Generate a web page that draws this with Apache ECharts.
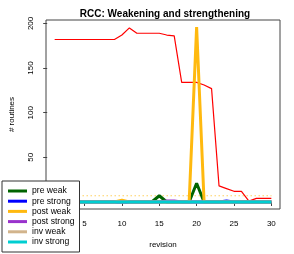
<!DOCTYPE html>
<html>
<head>
<meta charset="utf-8">
<script src="https://cdn.jsdelivr.net/npm/echarts@6/dist/echarts.min.js"></script>
<style>html,body{margin:0;padding:0;background:#fff}#c{width:294px;height:254px}</style>
</head>
<body>
<div id="c"></div>
<script>
var revisions = [1,2,3,4,5,6,7,8,9,10,11,12,13,14,15,16,17,18,19,20,21,22,23,24,25,26,27,28,29,30];
var totalRoutines = [182,182,182,182,182,182,182,182,182,187,195,189,189,189,189,187,186,134,134,134,131,127,18,15,12,12,1,4,4,4];
var preWeak    = [0,0,0,0,0,0,0,0,0,0,0,0,0,0,7,0,0,0,0,21,0,0,0,0,0,0,0,0,0,0];
var preStrong  = [0,0,0,0,0,0,0,0,0,0,0,0,0,0,0,0,0,0,0,0,0,0,0,1,0,0,0,0,0,0];
var postWeak   = [0,0,0,0,0,0,0,0,0,2,0,0,0,0,0,0,0,0,0,196,0,0,0,0,0,0,0,0,0,0];
var postStrong = [0,0,0,0,0,0,0,0,0,0,0,0,0,0,0,1,1,0,0,0,0,0,0,0,0,0,0,0,0,0];
var invWeak    = [0,0,0,0,0,0,0,0,0,0,0,0,0,0,0,0,0,0,0,0,0,0,0,0,0,0,0,0,0,0];
var invStrong  = [0,0,0,0,0,0,0,0,0,0,0,0,0,0,0,0,0,0,0,0,0,0,0,0,0,0,0,0,0,0];
var thresholdValue = 7;
var xTicks = [0,5,10,15,20,25,30];
var yTicks = [0,50,100,150,200];
var seriesNames = ['pre weak','pre strong','post weak','post strong','inv weak','inv strong'];
var seriesColors = ['#006400','#0000FF','#FFB90F','#9932CC','#D2B48C','#00CED1'];

function pairs(vals){ return revisions.map(function(r,i){ return [r, vals[i]]; }); }

var font = 'Liberation Sans, Arial, sans-serif';
var lineSeries = [preWeak, preStrong, postWeak, postStrong, invWeak, invStrong].map(function(v,i){
  return {
    name: seriesNames[i], type: 'line', data: pairs(v), showSymbol: false,
    color: seriesColors[i], lineStyle: { width: 3, color: seriesColors[i] }, z: 3 + i
  };
});

var series = [
  { name: 'total', type: 'line', data: pairs(totalRoutines), showSymbol: false,
    color: '#FF0000', lineStyle: { width: 1.2, color: '#FF0000' }, z: 2 },
  { name: 'threshold', type: 'line', showSymbol: false,
    data: [[revisions[0], thresholdValue], [revisions[revisions.length-1], thresholdValue]],
    lineStyle: { width: 1, color: '#FFB90F', type: [1, 3] }, z: 2 }
].concat(lineSeries);

var chart = echarts.init(document.getElementById('c'), null, { renderer: 'canvas' });
chart.setOption({
  animation: false,
  title: {
    text: 'RCC: Weakening and strengthening', left: 160, top: 4, textAlign: 'center',
    textStyle: { fontFamily: font, fontSize: 10, fontWeight: 'bold', color: '#000' }
  },
  grid: { left: 40, right: 14, top: 20, bottom: 41, show: true, borderColor: '#444', borderWidth: 1, backgroundColor: 'transparent' },
  legend: {
    data: seriesNames, orient: 'vertical', left: 2, top: 181,
    icon: 'rect', itemWidth: 19, itemHeight: 3, itemGap: 0.2,
    padding: [5, 5, 5, 6],
    backgroundColor: '#fff', borderColor: '#333', borderWidth: 1, borderRadius: 0,
    textStyle: { fontFamily: font, fontSize: 8.6, color: '#000', lineHeight: 10 },
    selectedMode: false, z: 10
  },
  xAxis: {
    type: 'value', min: -0.16, max: 31.16,
    name: 'revision', nameLocation: 'middle', nameGap: 32,
    nameTextStyle: { fontFamily: font, fontSize: 8, color: '#000' },
    axisLine: { show: false },
    axisTick: { show: true, length: 4, customValues: xTicks, lineStyle: { color: '#444' } },
    axisLabel: { customValues: xTicks, margin: 11, fontFamily: font, fontSize: 8, color: '#000' },
    splitLine: { show: false }
  },
  yAxis: {
    type: 'value', min: -7.84, max: 203.84,
    name: '# routines', nameLocation: 'middle', nameGap: 30, nameRotate: 90,
    nameTextStyle: { fontFamily: font, fontSize: 8, color: '#000' },
    axisLine: { show: false },
    axisTick: { show: true, length: 4, customValues: yTicks, lineStyle: { color: '#444' } },
    axisLabel: { customValues: yTicks, rotate: 90, margin: 11, fontFamily: font, fontSize: 8, color: '#000' },
    splitLine: { show: false }
  },
  series: series
});
</script>
</body>
</html>
